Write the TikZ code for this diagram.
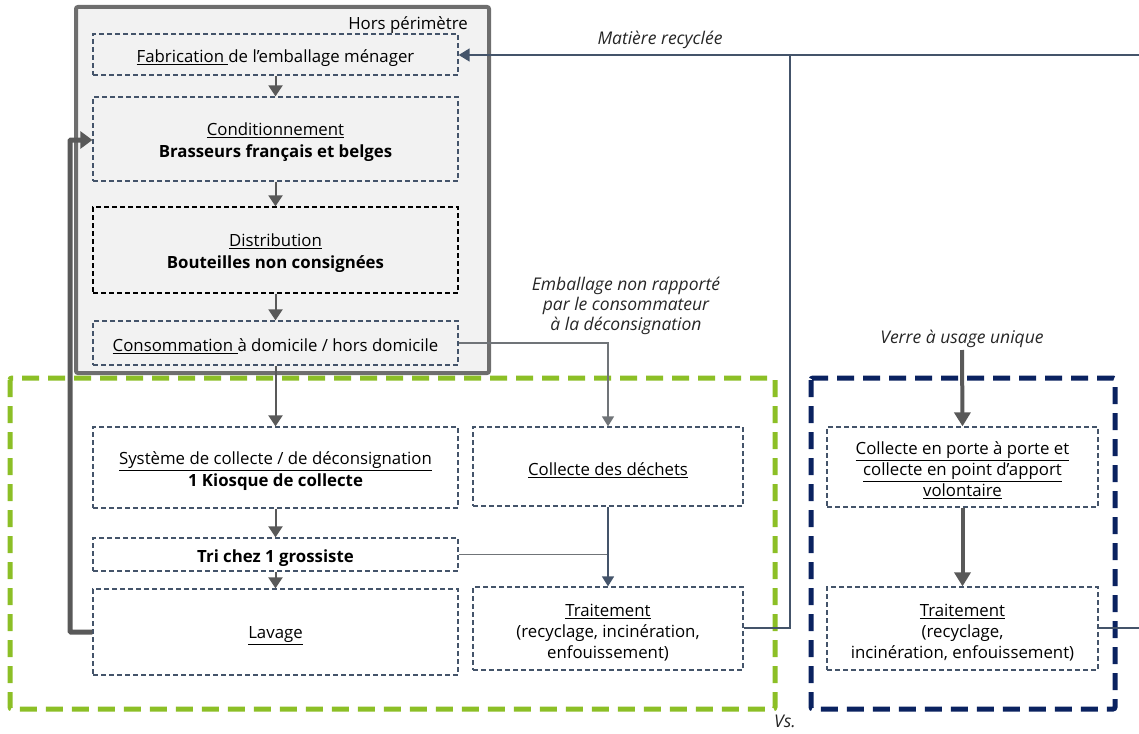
\documentclass[tikz,border=0pt]{standalone}
\usepackage{fontspec}
\setmainfont{Open Sans}
\usetikzlibrary{arrows.meta}
\definecolor{slate}{HTML}{44546A}
\definecolor{arrowgrey}{HTML}{595959}
\definecolor{linegrey}{HTML}{707478}
\definecolor{framegrey}{HTML}{6E6E6E}
\definecolor{framefill}{HTML}{F2F2F2}
\definecolor{leafgreen}{HTML}{8CBF26}
\definecolor{navy}{HTML}{0A2260}
% invisible strut that sets the text a little lower in its box
\newcommand{\toppad}{\rule{0pt}{20pt}}
\tikzset{
  stagebox/.style={draw=slate, dash pattern=on 5pt off 3pt, line width=1.3pt, inner sep=0pt, align=center},
  flow/.style={draw=arrowgrey, line width=2pt, -{Triangle[width=14pt,length=11pt]}},
  thinflow/.style={draw=linegrey, line width=1.5pt, -{Triangle[width=12pt,length=10pt]}},
  bigflow/.style={draw=arrowgrey, line width=4pt, -{Triangle[width=16pt,length=14pt]}},
  loopflow/.style={draw=arrowgrey, line width=5pt, -{Triangle[width=17pt,length=12pt]}, rounded corners=1pt},
  recycle/.style={draw=slate, line width=1.6pt},
  note/.style={font=\fontsize{17.5}{20}\selectfont\itshape, text=black!85, align=center, inner sep=0pt}
}
\begin{document}
\begin{tikzpicture}[x=1pt,y=-1pt,font=\fontsize{16.8}{22}\selectfont]
\useasboundingbox (0,0) rectangle (1139,733);

% out-of-scope frame
\draw[draw=framegrey, fill=framefill, line width=4pt, rounded corners=2pt] (76,7) rectangle (489,373);
\node[anchor=east, inner sep=0pt] (hors) at (468,25) {Hors périmètre};

% upstream stages
\node[stagebox, minimum width=365pt, minimum height=41pt] (fab) at (275.5,54.5) {\toppad\underline{Fabrication }de l’emballage ménager};
\node[stagebox, minimum width=365pt, minimum height=84pt] (cond) at (275.5,139) {\toppad\underline{Conditionnement}\\\textbf{Brasseurs français et belges}};
\node[stagebox, draw=black, minimum width=365pt, minimum height=86pt] (dist) at (275.5,250) {\toppad\underline{Distribution}\\\textbf{Bouteilles non consignées}};
\node[stagebox, minimum width=365pt, minimum height=44pt] (cons) at (275.5,343) {\toppad\underline{Consommation }à domicile / hors domicile};

% deposit system
\draw[draw=leafgreen, line width=5pt, dash pattern=on 17pt off 9pt, rounded corners=2pt] (10,378) rectangle (775,709);
\node[stagebox, minimum width=365pt, minimum height=81pt] (sys) at (275.5,467.5) {\toppad\underline{Système de collecte / de déconsignation}\\\textbf{1 Kiosque de collecte}};
\node[stagebox, minimum width=365pt, minimum height=33pt] (tri) at (275.5,554.5) {\toppad\textbf{Tri chez 1 grossiste}};
\node[stagebox, minimum width=365pt, minimum height=86pt] (lav) at (275.5,632) {\toppad\underline{Lavage}};
\node[stagebox, minimum width=270pt, minimum height=79pt] (dech) at (608,466.5) {\toppad\underline{Collecte des déchets}};
\node[stagebox, minimum width=270pt, minimum height=83pt, font=\fontsize{16.8}{21}\selectfont] (trait) at (608,628.5) {\toppad\underline{Traitement}\\(recyclage, incinération,\\enfouissement)};

% single-use glass
\draw[draw=navy, line width=5pt, dash pattern=on 17pt off 9pt, rounded corners=2pt] (811,378) rectangle (1115,709);
\node[stagebox, minimum width=271pt, minimum height=80pt, font=\fontsize{16.8}{21}\selectfont] (pap) at (962.5,467) {\toppad\underline{Collecte en porte à porte et}\\\underline{collecte en point d’apport}\\\underline{volontaire}};
\node[stagebox, minimum width=271pt, minimum height=83pt, font=\fontsize{16.8}{21}\selectfont] (trait2) at (962.5,628.5) {\toppad\underline{Traitement}\\(recyclage,\\incinération, enfouissement)};

% labels
\node[note] (mat) at (660,40) {Matière recyclée};
\node[note] (emb) at (626,306) {Emballage non rapporté\\par le consommateur\\à la déconsignation};
\node[note] (verre) at (962,339) {Verre à usage unique};
\node[note] (vs) at (785,721) {Vs.};
\coordinate (verretop) at (962,350);
\coordinate (edgetop) at (1139,55);
\coordinate (edgebot) at (1139,628);

% main chain
\draw[flow] (fab) -- (cond);
\draw[flow] (cond) -- (dist);
\draw[flow] (dist) -- (cons);
\draw[flow] (cons) -- (sys);
\draw[flow] (sys) -- (tri);
\draw[flow] (tri) -- (lav);
\draw[loopflow] (lav.west) -- (70,632) -- (70,140) -- (cond.west |- 0,140);

% waste route
\draw[thinflow] (cons.east) -- (dech.north |- cons.east) -- (dech.north);
\draw[draw=linegrey, line width=1.5pt] (tri.east) -- (dech.south |- tri.east);
\draw[recycle, -{Triangle[width=12pt,length=10pt]}, draw=slate] (dech.south) -- (trait.north);

% recycled material back to manufacturing
\draw[recycle] (trait.east |- 0,628) -- (790,628) -- (790,55);
\draw[recycle, -{Triangle[width=13pt,length=11pt]}] (edgetop) -- (fab.east |- edgetop);
\draw[recycle] (trait2.east |- edgebot) -- (edgebot);

% single-use glass chain
\draw[bigflow] (verretop) -- (pap.north);
\draw[bigflow] (pap) -- (trait2);
\end{tikzpicture}
\end{document}
